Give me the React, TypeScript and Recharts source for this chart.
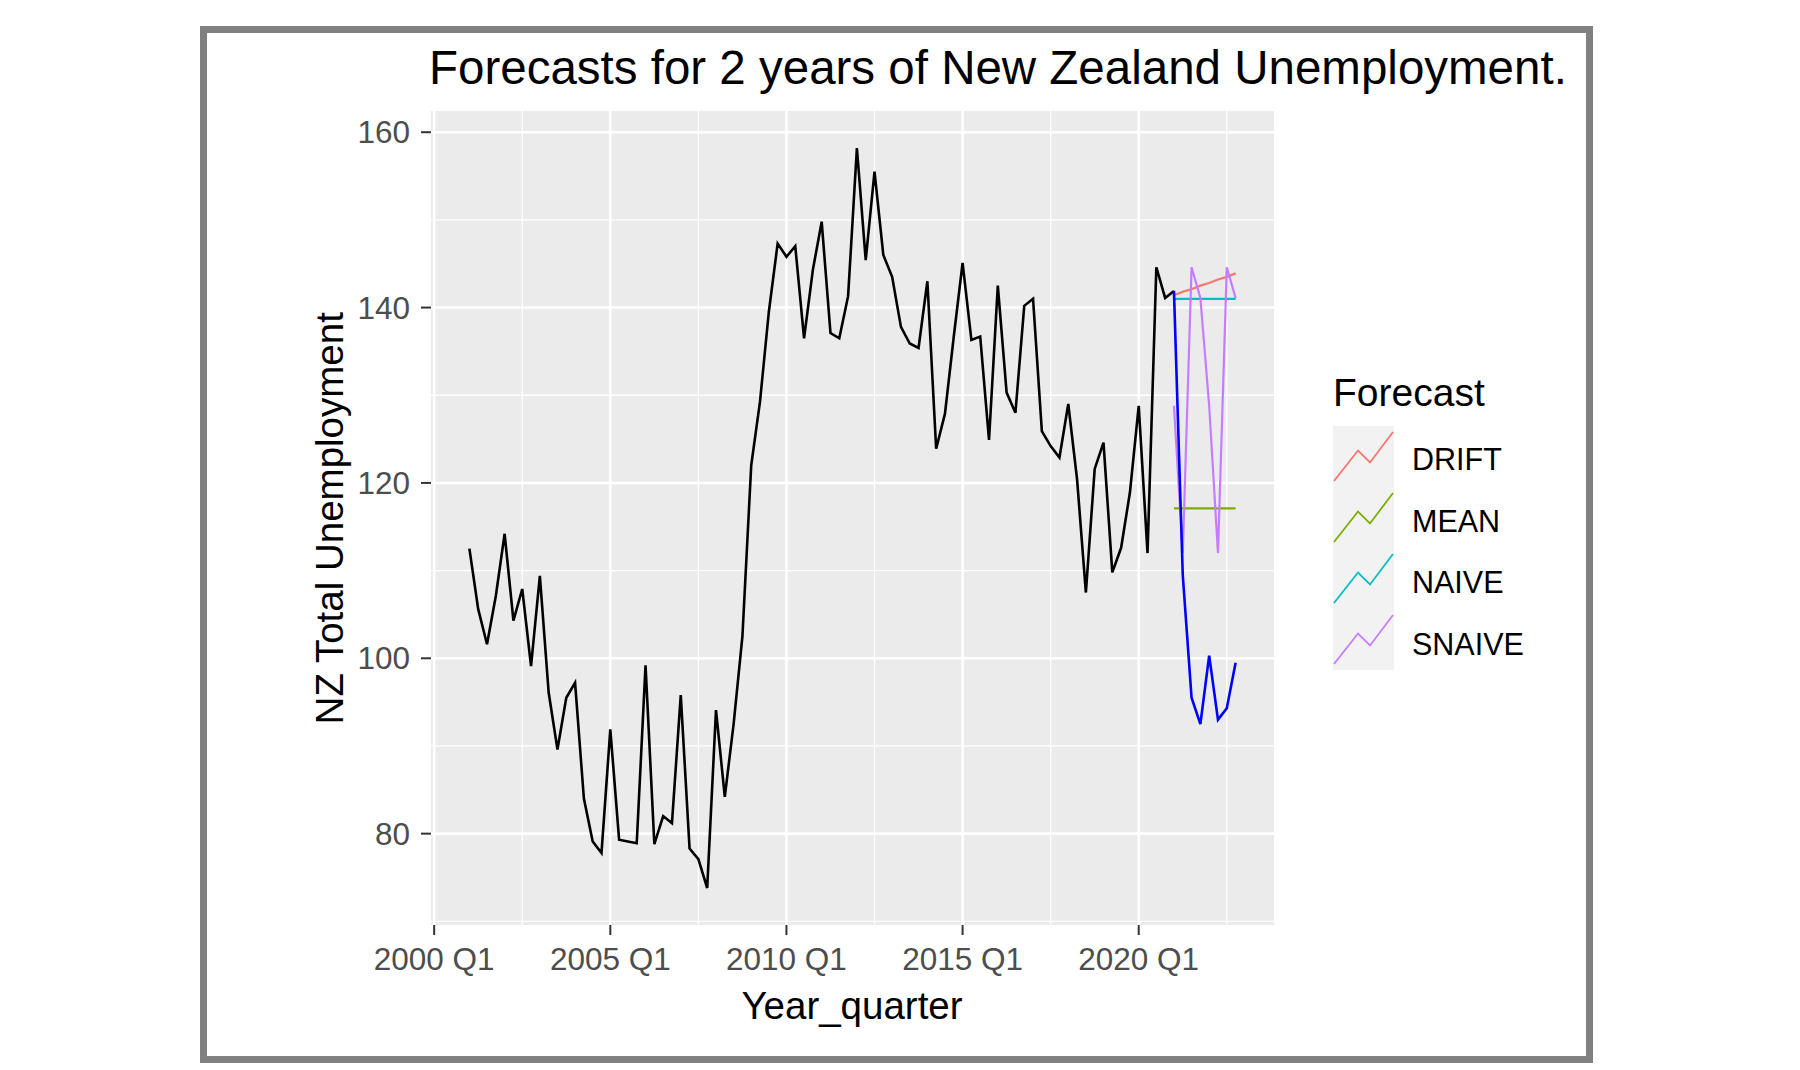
import React from 'react';
import { LineChart, Line, XAxis, YAxis, CartesianGrid } from 'recharts';

// quarterly series, first point is 2001 Q1, last observed point 2021 Q1
const firstYear = 2001;
const unemployment = [
  112.5, 105.6, 101.6, 107.1, 114.2, 104.3, 107.9, 99.1,
  109.4, 96.1, 89.6, 95.5, 97.2, 84.0, 79.1, 77.8,
  91.9, 79.3, 79.1, 78.9, 99.2, 78.8, 82.0, 81.2,
  95.8, 78.3, 77.1, 73.8, 94.1, 84.2, 92.5, 102.5,
  122.0, 129.3, 139.5, 147.3, 145.8, 147.0, 136.5, 144.3,
  149.8, 137.1, 136.5, 141.3, 158.2, 145.4, 155.5, 146.0,
  143.5, 137.8, 135.9, 135.4, 143.0, 123.9, 127.9, 136.7,
  145.1, 136.3, 136.7, 124.9, 142.5, 130.3, 128.0, 140.2,
  141.0, 125.9, 124.2, 122.9, 129.0, 120.4, 107.5, 121.6,
  124.6, 109.8, 112.6, 118.9, 128.8, 112.0, 144.6, 141.1,
  141.9,
];

// 2021 Q1 .. 2022 Q4
const forecastFrom = 80;
const testActual = [141.9, 109.5, 95.5, 92.5, 100.3, 93.0, 94.3, 99.5];
const drift = [141.4, 141.8, 142.1, 142.5, 142.8, 143.2, 143.5, 143.9];
const mean = [117.1, 117.1, 117.1, 117.1, 117.1, 117.1, 117.1, 117.1];
const naive = [141.0, 141.0, 141.0, 141.0, 141.0, 141.0, 141.0, 141.0];
const snaive = [128.8, 112.0, 144.6, 141.1, 128.8, 112.0, 144.6, 141.1];

const xTicks = [2000, 2005, 2010, 2015, 2020];
const xMinor = [2002.5, 2007.5, 2012.5, 2017.5, 2022.5];
const yTicks = [80, 100, 120, 140, 160];
const yMinor = [70, 90, 110, 130, 150];

const models = [
  { key: 'DRIFT', color: '#F8766D', values: drift },
  { key: 'MEAN', color: '#7CAE00', values: mean },
  { key: 'NAIVE', color: '#00BFC4', values: naive },
  { key: 'SNAIVE', color: '#C77CFF', values: snaive },
];

const total = forecastFrom + testActual.length;
const data = Array.from({ length: total }, (_, i) => {
  const row: Record<string, number | null> = { x: firstYear + i / 4 };
  row.actual = i < unemployment.length ? unemployment[i] : null;
  const h = i - forecastFrom;
  row.test = h >= 0 ? testActual[h] : null;
  models.forEach(m => {
    row[m.key] = h >= 0 ? m.values[h] : null;
  });
  return row;
});

const font = '"Liberation Sans", Arial, sans-serif';
const tickStyle = { fill: '#4D4D4D', fontSize: 31.5, fontFamily: font };

const App = () => {
  return (
    <div style={{ position: 'absolute', left: 0, top: 0, width: 1800, height: 1070, background: '#fff', fontFamily: font }}>
      <div
        style={{
          position: 'absolute', left: 200, top: 26, width: 1393, height: 1037,
          border: '7px solid #808080', boxSizing: 'border-box',
        }}
      />
      <div style={{ position: 'absolute', left: 429, top: 44, fontSize: 47.5, lineHeight: 1, color: '#000', whiteSpace: 'nowrap' }}>
        Forecasts for 2 years of New Zealand Unemployment.
      </div>

      <div style={{ position: 'absolute', left: 0, top: 0 }}>
        <LineChart width={1800} height={1070} data={data} margin={{ top: 111, right: 526, bottom: 0, left: 0 }}>
          <CartesianGrid
            fill="#EBEBEB"
            stroke="#FFFFFF"
            strokeWidth={1.3}
            horizontalValues={yMinor}
            verticalValues={xMinor}
          />
          <CartesianGrid
            stroke="#FFFFFF"
            strokeWidth={2.6}
            horizontalValues={yTicks}
            verticalValues={xTicks}
          />
          <XAxis
            type="number"
            dataKey="x"
            domain={[1999.91, 2023.84]}
            allowDataOverflow
            ticks={xTicks}
            interval={0}
            tickFormatter={(v: number) => `${v} Q1`}
            axisLine={false}
            tickLine={{ stroke: '#333333', strokeWidth: 2 }}
            tickSize={10}
            tickMargin={13}
            tick={tickStyle}
            height={145}
          />
          <YAxis
            type="number"
            domain={[69.58, 162.42]}
            allowDataOverflow
            ticks={yTicks}
            interval={0}
            axisLine={false}
            tickLine={{ stroke: '#333333', strokeWidth: 2 }}
            tickSize={10}
            tickMargin={11}
            tick={tickStyle}
            width={431}
          />
          <Line dataKey="actual" stroke="#000000" strokeWidth={2.6} dot={false} isAnimationActive={false} type="linear" />
          {models.map(m => (
            <Line
              key={m.key}
              dataKey={m.key}
              stroke={m.color}
              strokeWidth={2.2}
              dot={false}
              isAnimationActive={false}
              type="linear"
            />
          ))}
          <Line dataKey="test" stroke="#0000FF" strokeWidth={2.6} dot={false} isAnimationActive={false} type="linear" />
        </LineChart>
      </div>

      <div
        style={{
          position: 'absolute', left: 329.5 - 300, top: 518 - 19, width: 600, textAlign: 'center',
          fontSize: 38.5, lineHeight: 1, color: '#000', transform: 'rotate(-90deg)', whiteSpace: 'nowrap',
        }}
      >
        NZ Total Unemployment
      </div>
      <div
        style={{
          position: 'absolute', left: 852 - 300, top: 987, width: 600, textAlign: 'center',
          fontSize: 38.5, lineHeight: 1, color: '#000', whiteSpace: 'nowrap',
        }}
      >
        Year_quarter
      </div>

      {/* legend */}
      <div style={{ position: 'absolute', left: 1333, top: 373, fontSize: 39, lineHeight: 1, color: '#000' }}>Forecast</div>
      <svg style={{ position: 'absolute', left: 1333, top: 426 }} width={61} height={244}>
        <rect x={0} y={0} width={61} height={244} fill="#F2F2F2" />
        {models.map((m, i) => {
          const y0 = i * 61;
          const pts = [
            [1, y0 + 55], [25, y0 + 24.5], [37, y0 + 36.5], [60, y0 + 6],
          ].map(p => p.join(',')).join(' ');
          return <polyline key={m.key} points={pts} fill="none" stroke={m.color} strokeWidth={1.8} />;
        })}
      </svg>
      {models.map((m, i) => (
        <div
          key={m.key}
          style={{ position: 'absolute', left: 1412, top: 459 + i * 61.5 - 15, fontSize: 30.5, lineHeight: 1, color: '#000' }}
        >
          {m.key}
        </div>
      ))}
    </div>
  );
};

export default App;
